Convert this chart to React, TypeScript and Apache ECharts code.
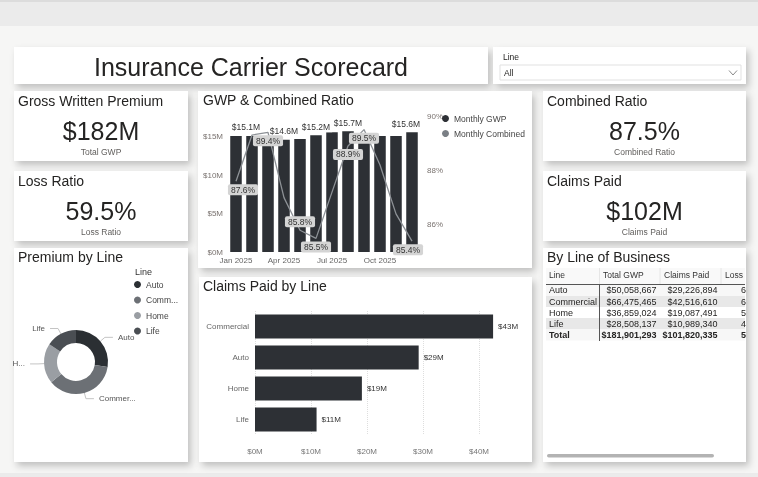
import React, { useEffect, useRef } from "react";
import * as echarts from "echarts";

const months = ["Jan 2025", "Feb 2025", "Mar 2025", "Apr 2025", "May 2025", "Jun 2025", "Jul 2025", "Aug 2025", "Sep 2025", "Oct 2025", "Nov 2025", "Dec 2025"];
const monthlyGwp = [15.1, 15.1, 14.8, 14.6, 14.7, 15.2, 15.6, 15.7, 15.3, 15.1, 15.1, 15.6];
const monthlyCombined = [87.6, 89.3, 89.4, 87.0, 85.8, 85.5, 87.2, 88.9, 89.5, 88.2, 86.4, 85.4];
const gwpLabelIdx = [1, 3, 5, 7, 11];
const combinedLabelIdx = [0, 2, 4, 5, 7, 8, 11];
const combinedLabelTop = [4];

const lines = ["Auto", "Commercial", "Home", "Life"];
const totalGwp = [50058667, 66475465, 36859024, 28508137];
const claimsPaid = [29226894, 42516610, 19087491, 10989340];
const lossRatioCol = ["61.2%", "66.8%", "54.3%", "45.1%"];
const totalRow = { gwp: 181901293, claims: 101820335, loss: "59.5%" };
const lineColors = ["#2b2f33", "#6c7075", "#9a9ea3", "#4a4e53"];
const pieShortNames: Record<string, string> = { Commercial: "Commer...", Home: "H..." };
const legendShortNames: Record<string, string> = { Commercial: "Comm..." };

const kpis = [
  { title: "Gross Written Premium", value: "$182M", label: "Total GWP", x: 14, y: 91, w: 174, h: 70 },
  { title: "Loss Ratio", value: "59.5%", label: "Loss Ratio", x: 14, y: 171, w: 174, h: 70 },
  { title: "Combined Ratio", value: "87.5%", label: "Combined Ratio", x: 543, y: 91, w: 203, h: 70 },
  { title: "Claims Paid", value: "$102M", label: "Claims Paid", x: 543, y: 171, w: 203, h: 70 },
];

const FONT = "Liberation Sans";
const DARK = "#252423";

function panel(x: number, y: number, w: number, h: number) {
  return {
    type: "rect",
    shape: { x, y, width: w, height: h },
    style: { fill: "#ffffff", shadowBlur: 7, shadowOffsetX: 3, shadowOffsetY: 4, shadowColor: "rgba(0,0,0,0.22)" },
  };
}

function txt(x: number, y: number, text: string, size: number, opts: any = {}) {
  return {
    type: "text",
    x,
    y,
    style: {
      text,
      fontSize: size,
      fontFamily: FONT,
      fill: opts.fill || DARK,
      fontWeight: opts.weight || "normal",
      align: opts.align || "left",
      verticalAlign: "middle",
      ...(opts.extra || {}),
    },
  };
}

const fmtMoney = (v: number) => "$" + v.toLocaleString("en-US");

export default function App() {
  const ref = useRef<HTMLDivElement>(null);
  useEffect(() => {
    if (!ref.current) return;
    const chart = echarts.init(ref.current, null, { renderer: "svg" });

    const els: any[] = [];
    els.push({ type: "rect", shape: { x: 0, y: 0, width: 758, height: 477 }, style: { fill: "#f6f6f5" } });
    els.push({ type: "rect", shape: { x: 0, y: 0, width: 758, height: 26 }, style: { fill: "#ebebeb" } });
    els.push({ type: "rect", shape: { x: 0, y: 0, width: 758, height: 2 }, style: { fill: "#dcdcdc" } });
    els.push({ type: "rect", shape: { x: 0, y: 473, width: 758, height: 4 }, style: { fill: "#ebebeb" } });

    // panels
    els.push(panel(14, 47, 474, 37));
    els.push(panel(493, 47, 253, 37));
    kpis.forEach((k) => els.push(panel(k.x, k.y, k.w, k.h)));
    els.push(panel(198, 91, 334, 177));
    els.push(panel(14, 248, 174, 214));
    els.push(panel(199, 277, 333, 185));
    els.push(panel(543, 248, 203, 214));

    // header
    els.push(txt(251, 67, "Insurance Carrier Scorecard", 25, { align: "center" }));
    els.push(txt(503, 57, "Line", 8.5));
    els.push({ type: "rect", shape: { x: 500, y: 65, width: 241, height: 15 }, style: { fill: "#fff", stroke: "#e1e1e1", lineWidth: 1 } });
    els.push(txt(504, 73, "All", 8.5));
    els.push({ type: "polyline", shape: { points: [[729, 70.5], [733, 75], [737, 70.5]] }, style: { stroke: "#8a8a8a", lineWidth: 1, fill: "none" } });

    // KPI cards
    kpis.forEach((k) => {
      els.push(txt(k.x + 4, k.y + 9.5, k.title, 14));
      els.push(txt(k.x + k.w / 2, k.y + 40, k.value, 25, { align: "center" }));
      els.push(txt(k.x + k.w / 2, k.y + 60.5, k.label, 8.5, { align: "center", fill: "#605e5c" }));
    });

    // chart titles
    els.push(txt(203, 100, "GWP & Combined Ratio", 14));
    els.push(txt(18, 257, "Premium by Line", 14));
    els.push(txt(203, 286, "Claims Paid by Line", 14));
    els.push(txt(547, 257, "By Line of Business", 14));
    els.push(txt(135, 272, "Line", 9, { fill: "#333" }));

    // table
    const tx0 = 546, tx1 = 745;
    els.push({ type: "rect", shape: { x: tx0, y: 268, width: tx1 - tx0, height: 16 }, style: { fill: "#f9f9f9" } });
    [599.5, 660, 721].forEach((cx) =>
      els.push({ type: "line", shape: { x1: cx, y1: 268, x2: cx, y2: 284 }, style: { stroke: "#e6e6e6", lineWidth: 1 } })
    );
    const rowTop = [284.5, 296, 307, 318, 329];
    const rowFill = ["#f7f7f7", "#e8e8e8", "#ffffff", "#e8e8e8", "#f7f7f7"];
    rowTop.forEach((ry, i) =>
      els.push({ type: "rect", shape: { x: tx0, y: ry, width: tx1 - tx0, height: 11.5 }, style: { fill: rowFill[i] } })
    );
    els.push({ type: "line", shape: { x1: tx0, y1: 284.5, x2: tx1, y2: 284.5 }, style: { stroke: "#555", lineWidth: 1 } });
    els.push({ type: "line", shape: { x1: 599.5, y1: 284.5, x2: 599.5, y2: 341 }, style: { stroke: "#555", lineWidth: 1 } });
    els.push(txt(549, 275, "Line", 8.5, { fill: "#333" }));
    els.push(txt(603, 275, "Total GWP", 8.5, { fill: "#333" }));
    els.push(txt(664, 275, "Claims Paid", 8.5, { fill: "#333" }));
    els.push(txt(725, 275, "Loss", 8.5, { fill: "#333" }));
    const clip = { width: 8, overflow: "truncate", ellipsis: "" };
    lines.forEach((ln, i) => {
      const cy = rowTop[i] + 5.8;
      els.push(txt(549, cy, ln, 9));
      els.push(txt(656.5, cy, fmtMoney(totalGwp[i]), 9, { align: "right" }));
      els.push(txt(717.5, cy, fmtMoney(claimsPaid[i]), 9, { align: "right" }));
      els.push(txt(741, cy, lossRatioCol[i], 9, { extra: clip }));
    });
    {
      const cy = rowTop[4] + 5.8;
      els.push(txt(549, cy, "Total", 9, { weight: "bold" }));
      els.push(txt(656.5, cy, fmtMoney(totalRow.gwp), 9, { align: "right", weight: "bold" }));
      els.push(txt(717.5, cy, fmtMoney(totalRow.claims), 9, { align: "right", weight: "bold" }));
      els.push(txt(741, cy, totalRow.loss, 9, { weight: "bold", extra: clip }));
    }
    els.push({ type: "rect", shape: { x: 547, y: 454, width: 167, height: 3.5, r: 1.75 }, style: { fill: "#b3b3b3" } });

    const claimsOrder = lines
      .map((n, i) => ({ n, v: claimsPaid[i] / 1e6 }))
      .sort((a, b) => b.v - a.v);

    const option: any = {
      animation: false,
      textStyle: { fontFamily: FONT },
      graphic: { elements: els },
      legend: [
        {
          data: ["Monthly GWP", "Monthly Combined"],
          orient: "vertical",
          left: 442,
          top: 114,
          padding: 0,
          icon: "circle",
          itemWidth: 7,
          itemHeight: 7,
          itemGap: 6,
          textStyle: { fontSize: 8.5, color: "#444", fontFamily: FONT },
        },
        {
          data: lines,
          orient: "vertical",
          left: 134,
          top: 280,
          padding: 0,
          icon: "circle",
          itemWidth: 7,
          itemHeight: 7,
          itemGap: 6.5,
          formatter: (n: string) => legendShortNames[n] || n,
          textStyle: { fontSize: 8.5, color: "#444", fontFamily: FONT },
        },
      ],
      grid: [
        { left: 228, top: 116, width: 192, height: 136 },
        { left: 255, top: 311, width: 252, height: 124 },
      ],
      xAxis: [
        {
          gridIndex: 0,
          type: "category",
          data: months,
          axisLine: { show: false },
          axisTick: { show: false },
          axisLabel: { interval: 2, fontSize: 8, color: "#666", margin: 4 },
        },
        {
          gridIndex: 1,
          type: "value",
          min: 0,
          max: 45,
          interval: 10,
          axisLine: { show: false },
          axisTick: { show: false },
          axisLabel: { fontSize: 8, color: "#777", margin: 12, showMaxLabel: false, formatter: (v: number) => `$${v}M` },
          splitLine: { showMaxLine: false, lineStyle: { type: "dotted", color: "#dedede" } },
        },
      ],
      yAxis: [
        {
          gridIndex: 0,
          type: "value",
          min: 0,
          max: 17.7,
          interval: 5,
          axisLine: { show: false },
          axisTick: { show: false },
          splitLine: { show: false },
          axisLabel: { fontSize: 8, color: "#7a7370", margin: 5, showMaxLabel: false, formatter: (v: number) => `$${v}M` },
        },
        {
          gridIndex: 0,
          type: "value",
          position: "right",
          min: 85,
          max: 90,
          interval: 1,
          axisLine: { show: false },
          axisTick: { show: false },
          splitLine: { show: false },
          axisLabel: { fontSize: 8, color: "#7a7370", margin: 7, formatter: (v: number) => (Math.round(v) % 2 === 0 ? `${Math.round(v)}%` : "") },
        },
        {
          gridIndex: 1,
          type: "category",
          inverse: true,
          data: claimsOrder.map((d) => d.n),
          axisLine: { show: false },
          axisTick: { show: false },
          axisLabel: { fontSize: 8, color: "#666", margin: 6 },
        },
      ],
      series: [
        {
          name: "Monthly GWP",
          type: "bar",
          xAxisIndex: 0,
          yAxisIndex: 0,
          barCategoryGap: "28%",
          itemStyle: { color: "#2d3035" },
          label: {
            show: false,
            position: "top",
            distance: 3,
            fontSize: 8.5,
            color: "#333",
            backgroundColor: "#ffffff",
            padding: [1, 2],
            formatter: (p: any) => `$${p.value.toFixed(1)}M`,
          },
          data: monthlyGwp.map((v, i) => ({
            value: v,
            label: gwpLabelIdx.includes(i) ? { show: true, offset: i === 1 || i === 11 ? [-6, 0] : [0, 0] } : { show: false },
          })),
        },
        {
          name: "Monthly Combined",
          type: "line",
          xAxisIndex: 0,
          yAxisIndex: 1,
          symbol: "circle",
          symbolSize: 0.1,
          showSymbol: true,
          showAllSymbol: true,
          lineStyle: { color: "#8d9196", width: 1.3 },
          itemStyle: { color: "#7a7f85" },
          label: {
            show: false,
            fontSize: 8.5,
            color: "#333",
            backgroundColor: "#d4d4d4",
            borderRadius: 2,
            padding: [1, 3],
            distance: 3,
            formatter: (p: any) => `${Number(p.value).toFixed(1)}%`,
          },
          data: monthlyCombined.map((v, i) => ({
            value: v,
            label: combinedLabelIdx.includes(i)
              ? {
                  show: true,
                  position: combinedLabelTop.includes(i) ? "top" : "bottom",
                  offset: i === 0 ? [7, 0] : i === 11 ? [-4, 0] : [0, 0],
                }
              : { show: false },
          })),
        },
        {
          name: "Premium by Line",
          type: "pie",
          center: [76, 362],
          radius: [19, 32],
          startAngle: 90,
          clockwise: true,
          label: {
            fontSize: 8,
            color: "#555",
            formatter: (p: any) => pieShortNames[p.name] || p.name,
          },
          labelLine: { length: 6, length2: 8, lineStyle: { color: "#c4c4c4", width: 1 } },
          data: lines.map((n, i) => ({ name: n, value: totalGwp[i], itemStyle: { color: lineColors[i] } })),
        },
        {
          name: "Claims Paid",
          type: "bar",
          xAxisIndex: 1,
          yAxisIndex: 2,
          barCategoryGap: "22%",
          itemStyle: { color: "#2d3035" },
          label: {
            show: true,
            position: "right",
            distance: 5,
            fontSize: 8,
            color: "#333",
            formatter: (p: any) => `$${Math.round(p.value)}M`,
          },
          data: claimsOrder.map((d) => d.v),
        },
      ],
    };
    chart.setOption(option);
    return () => chart.dispose();
  }, []);

  return <div ref={ref} style={{ position: "fixed", left: 0, top: 0, width: 758, height: 477 }} />;
}
